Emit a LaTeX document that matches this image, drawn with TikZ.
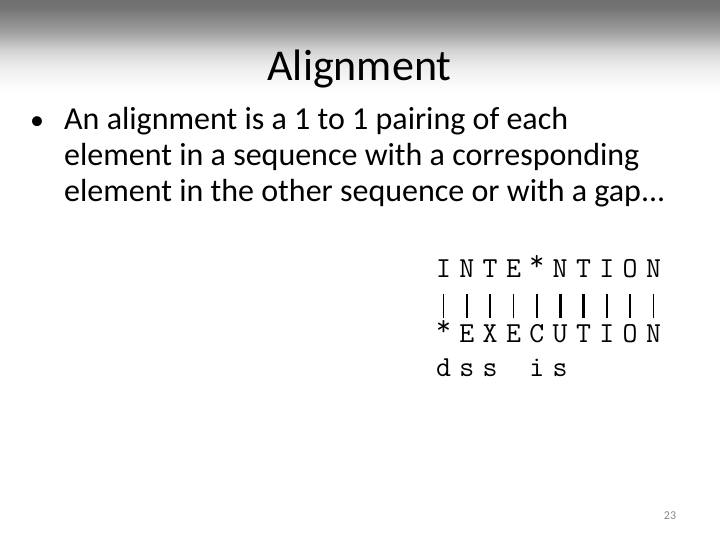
\documentclass[tikz,border=0pt]{standalone}
\usepackage{fontspec}
\setmainfont{Carlito}
\definecolor{pagegray}{RGB}{137,137,137}
\pgfdeclareverticalshading{slidetop}{100bp}{color(0bp)=(white); color(25bp)=(white); color(31bp)=(black!2); color(40bp)=(black!7); color(49bp)=(black!18); color(58bp)=(black!37); color(71bp)=(black!55); color(75bp)=(black!56); color(100bp)=(black!56)}
\newcommand{\seqfont}{\ttfamily\fontsize{29}{29}\selectfont}
\newcommand{\gapmark}{\raisebox{0.22em}{*}}
\tikzstyle{seq} = [font=\seqfont,inner sep=0pt,text height=15pt,text depth=0pt,anchor=base]

\begin{document}
\begin{tikzpicture}
		[
		x=1pt,y=-1pt,
		body/.style={
		anchor=base west,
		inner sep=0pt,
		font=\fontsize{32}{36}\selectfont},
		bar/.style={line width=1.5pt,shorten <=17pt,shorten >=9pt},
		thickbar/.style={bar,line width=3pt}
		]
		\useasboundingbox (0,0) rectangle (720,540);
		\fill[white] (0,0) rectangle (720,540);
		\shade[shading=slidetop] (0,0) rectangle (720,95);
		\node[anchor=base,inner sep=0pt,font=\fontsize{44}{44}\selectfont](title) at (359.5,81) {Alignment};
		\node[anchor=base,inner sep=0pt,font=\fontsize{28}{34}\selectfont](dot) at (37,129.3) {\textbullet};
		\node[body](line1) at (64,129.3) {An alignment is a 1 to 1 pairing of each};
		\node[body](line2) at (64,165.5) {element in a sequence with a corresponding};
		\node[body](line3) at (64,201.7) {element in the other sequence or with a gap...};
		% the two sequences
		\foreach \a [count=\i] in {I,N,T,E,\gapmark,N,T,I,O,N}
		\node[seq](t\i) at ({443.5+23.33*(\i-1)},277) {\a};
		\foreach \a [count=\i] in {\gapmark,E,X,E,C,U,T,I,O,N}
		\node[seq](b\i) at ({443.5+23.33*(\i-1)},342) {\a};
		\foreach \i in {1,2,3,4,5,8,9,10}
		\draw[bar] (t\i.south) -- (b\i.north);
		\foreach \i in {6,7}
		\draw[thickbar] (t\i.south) -- (b\i.north);
		% operations
		\foreach \a/\i in {d/1,s/2,s/3,i/5,s/6}
		\node[seq](op\i) at ({443.5+23.33*(\i-1)},376) {\a};
		\node[anchor=base,inner sep=0pt,font=\fontsize{12}{12}\selectfont,text=pagegray](page) at (670,519.5) {23};
		\end{tikzpicture}
\end{document}
